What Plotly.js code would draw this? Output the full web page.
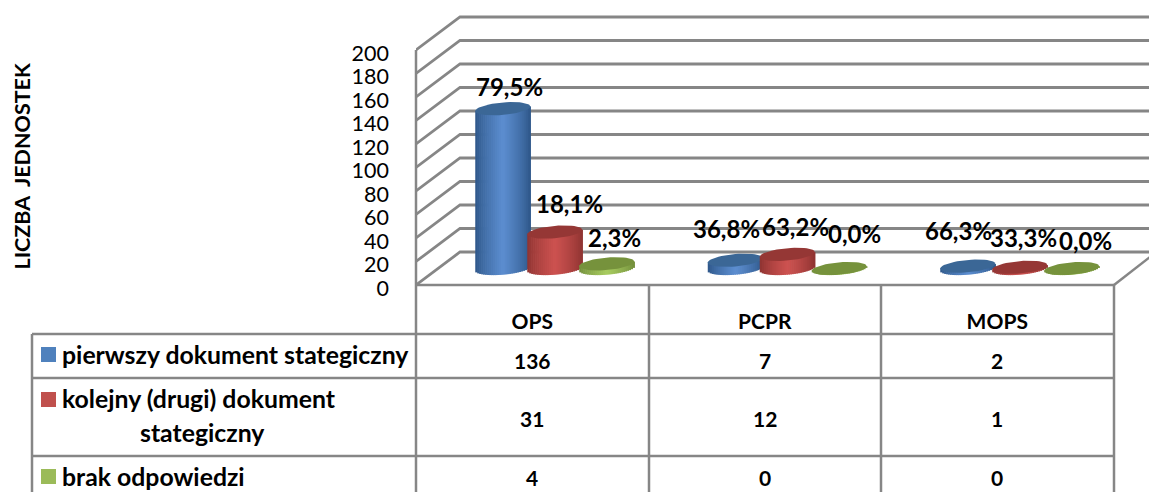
<!DOCTYPE html>
<html><head><meta charset="utf-8">
<script src="https://cdn.plot.ly/plotly-3.0.1.min.js"></script>
<style>html,body{margin:0;padding:0;background:#fff;overflow:hidden}</style>
</head><body><div id="c" style="width:1149px;height:492px"></div>
<script>
var categories = ['OPS','PCPR','MOPS'];
var seriesNames = ['pierwszy dokument stategiczny','kolejny (drugi) dokument','brak odpowiedzi'];
var pierwszy = [136,7,2];
var kolejny = [31,12,1];
var brak = [4,0,0];
var pctPierwszy = ['79,5%','36,8%','66,3%'];
var pctKolejny = ['18,1%','63,2%','33,3%'];
var pctBrak = ['2,3%','0,0%','0,0%'];
var yTicks = [0,20,40,60,80,100,120,140,160,180,200];
var yAxisTitle = 'LICZBA JEDNOSTEK';

// layout constants (pixels of the 1149x492 page)
var W=1149,H=492,F='Lato, Carlito, Calibri, sans-serif',GRID='#868686';
var X0=416,CATW=232.5,Y0=285,PXU=1.175,DX=44,DY=33,TOP=10;
var px2x=function(p){return -0.5+(p-X0)/CATW};
var len=function(p){return p/CATW};
var u=function(p){return p/PXU};
var xMax=px2x(W),yMax=u(Y0-TOP);
var px=function(p){return p/W};var py=function(p){return 1-p/H};

var series=[
 {v:pierwszy,pct:pctPierwszy,off:-57,edge:[44,84,134],mid:[92,142,208],cap:'#3b6796',
  ldx:[7,-8.5,-9.5],ldy:[21.7,32,36],swatch:'#4f81bd'},
 {v:kolejny,pct:pctKolejny,off:-5,edge:[140,50,48],mid:[205,82,80],cap:'#953735',
  ldx:[15,8,4],ldy:[29,28,30],swatch:'#c0504d'},
 {v:brak,pct:pctBrak,off:47,edge:[112,140,58],mid:[168,204,96],cap:'#76923c',
  ldx:[8,15,13.5],ldy:[25.8,35,28.5],swatch:'#9bbb59'}
];
var CW=55,RY=6.2,K=0.085,FLOOR=u(DY/2),STRIPS=28;

var traces=[],annotations=[],shapes=[];
var line=function(x0,y0,x1,y1){return {type:'line',xref:'paper',yref:'paper',x0:px(x0),x1:px(x1),y0:py(y0),y1:py(y1),line:{color:GRID,width:2.5},layer:'below'}};

// back wall and side wall grid
yTicks.forEach(function(v){
  var xb=px2x(X0+DX),yb=v+u(DY);
  shapes.push({type:'path',xref:'x',yref:'y',layer:'below',line:{color:GRID,width:2.8},
    path:'M '+px2x(X0)+' '+v+' L '+xb+' '+yb+' L '+xMax+' '+yb});
});
// floor right edge
shapes.push({type:'line',xref:'paper',yref:'paper',layer:'below',x0:px(1114),y0:py(Y0),x1:px(1150),y1:py(Y0-28),line:{color:GRID,width:2.5}});
// table rules
shapes.push(line(X0,50,X0,H+2));
shapes.push(line(32,334,32,H+2));
[649,881,1114].forEach(function(x){shapes.push(line(x,Y0,x,H+2))});
shapes.push(line(X0,Y0,1114,Y0));
[334,378,456].forEach(function(y){shapes.push(line(32,y,1114,y))});

series.forEach(function(s,si){
  var ax=si===0?'':String(si+1);
  var xa='x'+ax,ya='y'+ax;
  for(var k=0;k<STRIPS;k++){
    var t=(k+0.5)/STRIPS*2-1;
    var w=Math.sqrt(1-t*t);
    var shade=Math.pow(1-Math.abs(t),0.75);
    var col='rgb('+[0,1,2].map(function(c){return Math.round(s.edge[c]+(s.mid[c]-s.edge[c])*shade)}).join(',')+')';
    var tilt=K*(CW/2)*t;
    var baseY=FLOOR+u(tilt-RY*w);
    var topY=s.v.map(function(val){return val+FLOOR+u(tilt)});
    traces.push({type:'bar',xaxis:xa,yaxis:ya,x:[0,1,2],
      base:[baseY,baseY,baseY],y:topY.map(function(tp){return tp-baseY}),
      width:len(CW/STRIPS+0.7),offset:len(s.off+k*CW/STRIPS),
      marker:{color:col,line:{width:0}},hoverinfo:'skip',showlegend:false});
  }
  // top caps
  s.v.forEach(function(val,ci){
    var xs=[],ys=[];
    for(var a=0;a<=48;a++){
      var th=a/48*2*Math.PI,c=Math.cos(th);
      xs.push(ci+len(s.off+CW/2+CW/2*c));
      ys.push(val+FLOOR+u(RY*Math.sin(th)+K*(CW/2)*c));
    }
    traces.push({type:'scatter',mode:'lines',xaxis:xa,yaxis:ya,x:xs,y:ys,fill:'toself',fillcolor:s.cap,
      line:{width:0,color:s.cap},hoverinfo:'skip',showlegend:false});
    annotations.push({xref:'x',yref:'y',x:ci+len(s.off+CW/2),y:val+FLOOR,
      xshift:s.ldx[ci],yshift:s.ldy[ci],text:'<b>'+s.pct[ci]+'</b>',showarrow:false,
      xanchor:'center',yanchor:'middle',font:{family:F,size:24,color:'#000'}});
  });
});

// table values
var rowY=[360,418,477];
series.forEach(function(s,si){
  s.v.forEach(function(val,ci){
    annotations.push({xref:'x',yref:'paper',x:ci,y:py(rowY[si]),text:'<b>'+val+'</b>',showarrow:false,
      xanchor:'center',yanchor:'middle',font:{family:F,size:21,color:'#000'}});
  });
});
// legend rows
var legY=[354,398,476],swY=[354.5,399.5,476.5];
series.forEach(function(s,si){
  shapes.push({type:'rect',xref:'paper',yref:'paper',x0:px(41),x1:px(56),y0:py(swY[si]-7.5),y1:py(swY[si]+7.5),
    fillcolor:s.swatch,line:{width:0}});
  annotations.push({xref:'paper',yref:'paper',x:px(60),y:py(legY[si]),text:'<b>'+seriesNames[si]+'</b>',showarrow:false,
    xanchor:'left',yanchor:'middle',font:{family:F,size:24.8,color:'#000'}});
});
annotations.push({xref:'paper',yref:'paper',x:px(202),y:py(432),text:'<b>stategiczny</b>',showarrow:false,
  xanchor:'center',yanchor:'middle',font:{family:F,size:24.8,color:'#000'}});
annotations.push({xref:'paper',yref:'paper',x:px(22),y:py(167),text:'<b>'+yAxisTitle+'</b>',textangle:-90,showarrow:false,
  xanchor:'center',yanchor:'middle',font:{family:F,size:21.5,color:'#000'}});

var dom=[1-Y0/H,1-TOP/H];
var xr=[-0.5,xMax];
var layout={width:W,height:H,margin:{l:0,r:0,t:0,b:0},paper_bgcolor:'#fff',plot_bgcolor:'rgba(0,0,0,0)',
  barmode:'overlay',showlegend:false,hovermode:false,
  xaxis:{domain:[X0/W,1],range:xr,tickmode:'array',tickvals:[0,1,2],ticktext:categories.map(function(c){return '<b>'+c+'</b>'}),
    showgrid:false,zeroline:false,showline:false,ticks:'',ticklabelstandoff:22,tickfont:{family:F,size:21,color:'#000'}},
  yaxis:{domain:dom,range:[0,yMax],tickmode:'array',tickvals:yTicks,showgrid:false,zeroline:false,showline:false,ticks:'',
    ticklabelstandoff:26,ticklabelshift:3,tickfont:{family:F,size:21.5,color:'#000'}},
  xaxis2:{overlaying:'x',range:xr,visible:false},yaxis2:{overlaying:'y',range:[0,yMax],visible:false,anchor:'x2'},
  xaxis3:{overlaying:'x',range:xr,visible:false},yaxis3:{overlaying:'y',range:[0,yMax],visible:false,anchor:'x3'},
  shapes:shapes,annotations:annotations};
Plotly.newPlot('c',traces,layout,{displayModeBar:false,staticPlot:true}).then(function(){
  document.querySelectorAll('.annotation-text').forEach(function(n){
    if(n.textContent===yAxisTitle){n.style.wordSpacing='5px';}
  });
});
</script></body></html>
